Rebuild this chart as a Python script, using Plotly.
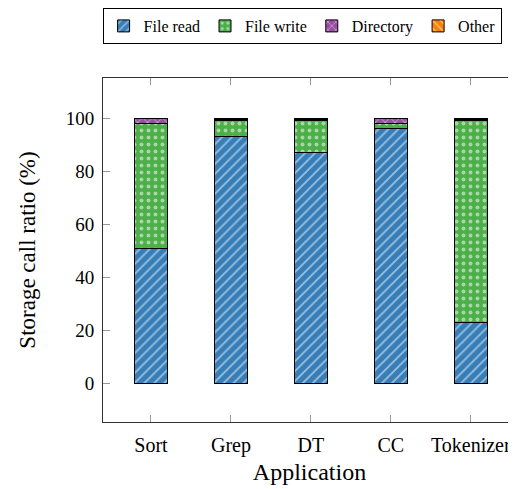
import plotly.graph_objects as go

apps = ["Sort", "Grep", "DT", "CC", "Tokenizer"]
file_read = [51, 93, 87, 96, 23]
file_write = [47, 6, 12, 2, 76]
directory = [2, 0.7, 0.7, 2, 0.7]
other = [0, 0.3, 0.3, 0, 0.3]
y_ticks = [0, 20, 40, 60, 80, 100]

FONT = "Liberation Serif, serif"

series = [
    ("File read", file_read, "#377eb8", "/"),
    ("File write", file_write, "#4daf4a", "."),
    ("Directory", directory, "#984ea3", "x"),
    ("Other", other, "#ff7f00", "\\"),
]

x = list(range(len(apps)))

fig = go.Figure()
for name, vals, color, shape in series:
    fig.add_trace(go.Bar(
        x=x,
        y=vals,
        name=name,
        width=0.42,
        marker=dict(
            color=color,
            line=dict(color="black", width=1),
            pattern=dict(shape=shape, fgcolor="white", size=7,
                         solidity=0.25, fillmode="overlay"),
        ),
    ))

# the page body has an 8px margin, so the figure is 8px smaller than the window
fig.update_layout(
    barmode="stack",
    width=508,
    height=481,
    template="simple_white",
    plot_bgcolor="white",
    paper_bgcolor="white",
    font=dict(family=FONT, size=19, color="black"),
    margin=dict(l=95, r=0, t=70, b=67, autoexpand=False),
    showlegend=True,
    # x just left of the plot area so the legend may use the left margin too
    legend=dict(
        orientation="h",
        x=-0.001, xanchor="left",
        y=1.2035, yanchor="top",
        font=dict(family=FONT, size=16),
        bordercolor="black",
        borderwidth=1,
        traceorder="normal",
        itemwidth=30,
    ),
)

fig.update_xaxes(
    range=[-0.6, 4.565],
    tickmode="array",
    tickvals=x,
    ticktext=apps,
    ticks="inside",
    ticklen=7,
    tickcolor="#999999",
    showline=True,
    linecolor="#333333",
    linewidth=1,
    mirror="ticks",
    automargin=False,
    ticklabelstandoff=5,
    tickfont=dict(family=FONT, size=20),
    title=dict(text="Application", font=dict(family=FONT, size=24), standoff=7),
)

fig.update_yaxes(
    range=[-14.7, 115.2],
    tickmode="array",
    tickvals=y_ticks,
    ticks="inside",
    ticklen=7,
    tickcolor="#999999",
    showline=True,
    linecolor="#333333",
    linewidth=1,
    mirror="ticks",
    showgrid=False,
    zeroline=False,
    automargin=False,
    ticklabelstandoff=4,
    tickfont=dict(family=FONT, size=19),
    title=dict(text="Storage call ratio (%)", font=dict(family=FONT, size=23), standoff=23),
)

fig.write_html("out.html")
